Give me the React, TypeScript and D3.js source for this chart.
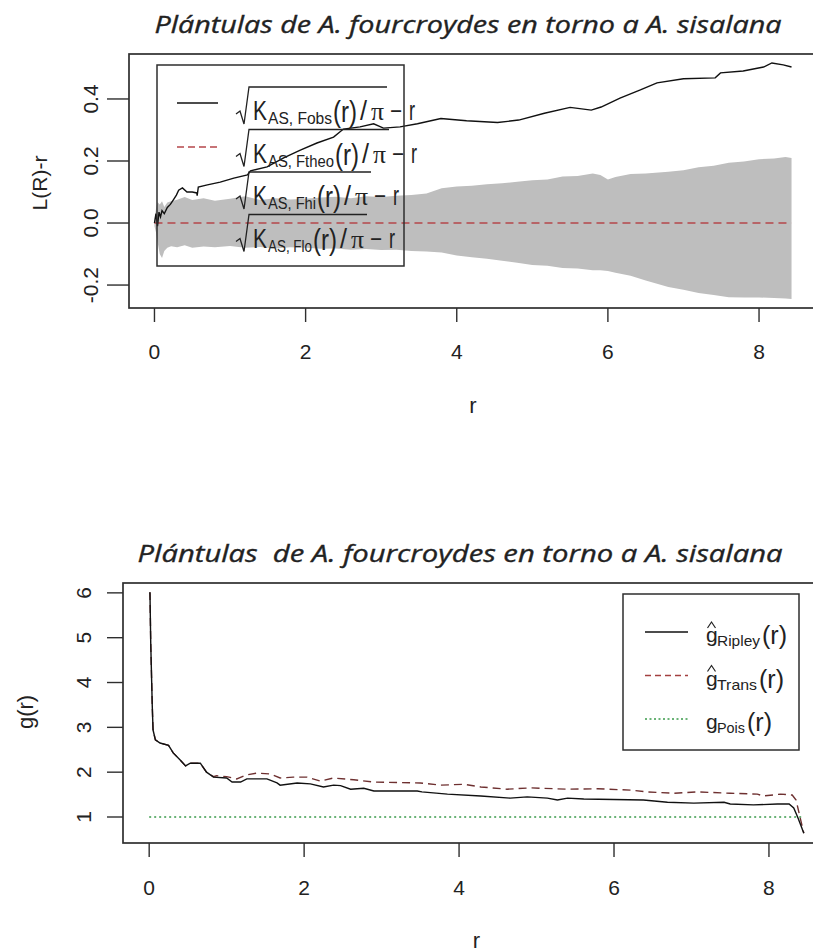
import React from "react";
import * as d3 from "d3";

// ---------- Top panel data: L(r)-r envelope ----------
const envR = [0,0.02,0.04,0.07,0.1,0.13,0.17,0.22,0.3,0.4,0.5,0.65,0.8,1.0,1.2,1.4,1.6,1.8,2.0,2.2,2.4,2.6,2.8,3.0,3.2,3.4,3.6,3.8,4.0,4.2,4.4,4.6,4.8,5.0,5.2,5.4,5.6,5.8,5.9,6.0,6.1,6.3,6.5,6.8,7.0,7.2,7.4,7.6,7.8,8.0,8.2,8.35,8.43];
const envHi = [0.01,0.045,0.068,0.06,0.07,0.052,0.066,0.07,0.075,0.084,0.074,0.08,0.072,0.078,0.086,0.074,0.08,0.076,0.078,0.082,0.085,0.08,0.086,0.084,0.088,0.09,0.095,0.112,0.118,0.12,0.125,0.128,0.133,0.138,0.14,0.15,0.152,0.16,0.155,0.14,0.148,0.158,0.16,0.165,0.17,0.18,0.185,0.194,0.198,0.206,0.208,0.213,0.21];
const envLo = [-0.01,-0.03,-0.06,-0.1,-0.113,-0.09,-0.08,-0.075,-0.078,-0.072,-0.08,-0.076,-0.078,-0.074,-0.08,-0.077,-0.082,-0.078,-0.08,-0.083,-0.082,-0.086,-0.084,-0.087,-0.086,-0.09,-0.092,-0.095,-0.105,-0.11,-0.115,-0.122,-0.128,-0.135,-0.138,-0.145,-0.147,-0.152,-0.152,-0.155,-0.16,-0.17,-0.185,-0.206,-0.215,-0.226,-0.232,-0.239,-0.24,-0.24,-0.242,-0.243,-0.245];
const obsR = [0,0.02,0.04,0.06,0.08,0.1,0.13,0.17,0.21,0.25,0.29,0.32,0.37,0.43,0.5,0.56,0.565,0.58,0.7,0.87,1.05,1.23,1.27,1.49,1.71,1.93,2.15,2.37,2.5,2.72,2.9,3.03,3.25,3.48,3.79,4.13,4.54,4.82,5.16,5.5,5.78,5.91,6.16,6.43,6.65,7.0,7.42,7.49,7.79,8.06,8.17,8.32,8.43];
const obsV = [0,0.03,-0.01,0.035,0.02,0.04,0.03,0.05,0.06,0.075,0.09,0.106,0.113,0.1,0.1,0.097,0.088,0.116,0.123,0.132,0.145,0.155,0.168,0.181,0.21,0.235,0.258,0.277,0.303,0.31,0.32,0.306,0.31,0.32,0.337,0.33,0.324,0.332,0.354,0.373,0.364,0.374,0.403,0.429,0.452,0.465,0.468,0.484,0.49,0.503,0.516,0.51,0.503];
const theoR = [0, 8.43];
const theoV = [0, 0];
const topXTicks = [0, 2, 4, 6, 8];
const topYTicks = [-0.2, 0.0, 0.2, 0.4];
const topLegendSubs = ["AS, Fobs", "AS, Ftheo", "AS, Fhi", "AS, Flo"];

// ---------- Bottom panel data: g(r) ----------
const ripR = [0,0.01,0.02,0.04,0.05,0.08,0.14,0.25,0.31,0.4,0.47,0.53,0.66,0.74,0.83,1.0,1.07,1.18,1.26,1.52,1.65,1.69,1.91,2.08,2.25,2.38,2.47,2.6,2.77,2.9,3.46,3.52,3.85,4.28,4.66,4.88,5.14,5.27,5.4,5.61,6.38,6.69,7.03,7.42,7.5,7.8,8.11,8.26,8.32,8.37,8.41,8.45];
const ripV = [6.0,6.0,4.88,3.46,2.94,2.72,2.65,2.6,2.43,2.27,2.14,2.2,2.2,2.0,1.89,1.87,1.78,1.78,1.85,1.85,1.76,1.71,1.76,1.74,1.67,1.71,1.7,1.62,1.64,1.58,1.58,1.56,1.51,1.47,1.42,1.45,1.42,1.38,1.42,1.4,1.38,1.33,1.31,1.33,1.29,1.27,1.29,1.29,1.2,1.0,0.82,0.64];
const transR = [0,0.01,0.02,0.04,0.05,0.08,0.14,0.25,0.31,0.4,0.47,0.53,0.66,0.74,0.83,0.87,1.0,1.13,1.26,1.39,1.56,1.69,1.86,2.04,2.21,2.38,2.64,2.9,3.5,3.76,4.06,4.28,4.62,4.92,5.4,5.79,6.21,6.43,6.77,7.08,7.5,7.85,7.93,8.15,8.3,8.35,8.41,8.45];
const transV = [6.0,6.0,4.88,3.46,2.94,2.72,2.65,2.6,2.43,2.27,2.14,2.2,2.2,2.0,1.9,1.92,1.9,1.85,1.94,1.98,1.96,1.87,1.89,1.89,1.8,1.87,1.83,1.78,1.76,1.71,1.73,1.67,1.62,1.65,1.62,1.63,1.6,1.56,1.53,1.56,1.53,1.51,1.47,1.51,1.49,1.38,0.93,0.64];
const poisR = [0, 8.45];
const poisV = [1, 1];
const botXTicks = [0, 2, 4, 6, 8];
const botYTicks = [1, 2, 3, 4, 5, 6];
const botLegend = [
  { sub: "Ripley", hat: true },
  { sub: "Trans", hat: true },
  { sub: "Pois", hat: false },
];

const TITLE1 = "Plántulas de A. fourcroydes en torno a A. sisalana";
const TITLE2 = "Plántulas  de A. fourcroydes en torno a A. sisalana";

const AXIS = "#2e2e2e";
const TXT = "#222";
const SANS = "'Liberation Sans', Arial, sans-serif";

export default function App() {
  const xT = d3.scaleLinear().domain([-0.337, 8.767]).range([129, 817]);
  const yT = d3.scaleLinear().domain([-0.274, 0.545]).range([308, 54]);
  const xB = d3.scaleLinear().domain([-0.338, 8.788]).range([123, 830]);
  const yB = d3.scaleLinear().domain([0.42, 6.22]).range([843, 583]);

  const env = envR.map((r, i) => ({ r, hi: envHi[i], lo: envLo[i] }));
  const area = d3.area<any>().x((d) => xT(d.r)).y0((d) => yT(d.lo)).y1((d) => yT(d.hi));
  const lineT = d3.line<[number, number]>().x((d) => xT(d[0])).y((d) => yT(d[1]));
  const lineB = d3.line<[number, number]>().x((d) => xB(d[0])).y((d) => yB(d[1]));
  const zip = (a: number[], b: number[]) => a.map((v, i) => [v, b[i]] as [number, number]);

  const tBox = { x0: xT.range()[0], x1: xT.range()[1], y0: yT.range()[1], y1: yT.range()[0] };
  const bBox = { x0: xB.range()[0], x1: xB.range()[1], y0: yB.range()[1], y1: yB.range()[0] };

  const lg = { x: 157, y: 65, w: 247, h: 201 };
  const subW = [64, 66, 48, 44];
  const step = 42.5;

  return (
    <svg width={813} height={952} style={{ position: "absolute", left: 0, top: 0, display: "block", background: "#fff" }}>
      <rect x={0} y={0} width={813} height={952} fill="#fff" />
      {/* ===== TOP PANEL ===== */}
      <text x={468} y={33} textAnchor="middle" fontFamily="'Open Sans', sans-serif" fontStyle="italic" fontSize={24} fill={TXT} stroke={TXT} strokeWidth={0.35} textLength={627} lengthAdjust="spacingAndGlyphs">{TITLE1}</text>
      <path d={area(env) || ""} fill="#bebebe" />
      <path d={lineT(zip(theoR, theoV)) || ""} fill="none" stroke="#b5474b" strokeWidth={1.5} strokeDasharray="8,5" />
      <path d={lineT(zip(obsR, obsV)) || ""} fill="none" stroke="#111" strokeWidth={1.4} />
      <rect x={tBox.x0} y={tBox.y0} width={tBox.x1 - tBox.x0} height={tBox.y1 - tBox.y0} fill="none" stroke={AXIS} strokeWidth={1.7} />
      {topXTicks.map((t) => (
        <g key={"tx" + t}>
          <line x1={xT(t)} x2={xT(t)} y1={tBox.y1} y2={tBox.y1 + 14} stroke={AXIS} strokeWidth={1.4} />
          <text x={xT(t)} y={351} textAnchor="middle" dominantBaseline="central" fontFamily={SANS} fontSize={21} fill={TXT}>{t}</text>
        </g>
      ))}
      {topYTicks.map((t) => (
        <g key={"ty" + t}>
          <line x1={tBox.x0 - 22} x2={tBox.x0} y1={yT(t)} y2={yT(t)} stroke={AXIS} strokeWidth={1.4} />
          <text transform={`translate(90,${yT(t)}) rotate(-90)`} textAnchor="middle" dominantBaseline="central" fontFamily={SANS} fontSize={21} fill={TXT}>{t.toFixed(1)}</text>
        </g>
      ))}
      <text x={(tBox.x0 + tBox.x1) / 2} y={405} textAnchor="middle" dominantBaseline="central" fontFamily={SANS} fontSize={22} fill={TXT}>r</text>
      <text transform={`translate(39,183) rotate(-90)`} textAnchor="middle" dominantBaseline="central" fontFamily={SANS} fontSize={21} fill={TXT}>L(R)-r</text>

      {/* top legend */}
      <rect x={lg.x} y={lg.y} width={lg.w} height={lg.h} fill="none" stroke={AXIS} strokeWidth={1.5} />
      <line x1={177} x2={218} y1={103} y2={103} stroke="#111" strokeWidth={1.4} />
      <line x1={177} x2={218} y1={147} y2={147} stroke="#b5474b" strokeWidth={1.5} strokeDasharray="7,4" />
      {topLegendSubs.map((s, i) => {
        const b = 120 + i * step;
        const ob = 87 + i * step;
        const sx = 268 + subW[i];
        const barEnd = sx + 55;
        return (
          <g key={"tl" + i} fill={TXT} fontFamily={SANS}>
            <path d={`M236,${b - 6} L240,${b - 9} L244,${b + 4} L249,${ob} H${barEnd}`} fill="none" stroke={TXT} strokeWidth={1.3} />
            <text x={253} y={b} fontSize={28} textLength={14} lengthAdjust="spacingAndGlyphs">K</text>
            <text x={268} y={b + 4} fontSize={16} textLength={subW[i]} lengthAdjust="spacingAndGlyphs">{s}</text>
            <text x={sx + 1} y={b + 2} fontSize={30} textLength={24} lengthAdjust="spacingAndGlyphs">(r)</text>
            <text x={sx + 28} y={b} fontSize={28} textLength={7} lengthAdjust="spacingAndGlyphs">/</text>
            <text x={sx + 39} y={b} fontSize={26} fontFamily="'Liberation Serif', serif" textLength={13} lengthAdjust="spacingAndGlyphs">π</text>
            <text x={sx + 58} y={b - 1} fontSize={24} textLength={12} lengthAdjust="spacingAndGlyphs">−</text>
            <text x={sx + 77} y={b} fontSize={28} textLength={6} lengthAdjust="spacingAndGlyphs">r</text>
          </g>
        );
      })}

      {/* ===== BOTTOM PANEL ===== */}
      <text x={460} y={562} textAnchor="middle" fontFamily="'Open Sans', sans-serif" fontStyle="italic" fontSize={24} fill={TXT} stroke={TXT} strokeWidth={0.35} textLength={645} lengthAdjust="spacingAndGlyphs" style={{ whiteSpace: "pre" }}>{TITLE2}</text>
      <path d={lineB(zip(poisR, poisV)) || ""} fill="none" stroke="#3a9a4a" strokeWidth={1.5} strokeDasharray="2,3" />
      <path d={lineB(zip(transR, transV)) || ""} fill="none" stroke="#6e3030" strokeWidth={1.4} strokeDasharray="8,5" />
      <path d={lineB(zip(ripR, ripV)) || ""} fill="none" stroke="#111" strokeWidth={1.4} />
      <rect x={bBox.x0} y={bBox.y0} width={bBox.x1 - bBox.x0} height={bBox.y1 - bBox.y0} fill="none" stroke={AXIS} strokeWidth={1.7} />
      {botXTicks.map((t) => (
        <g key={"bx" + t}>
          <line x1={xB(t)} x2={xB(t)} y1={bBox.y1} y2={bBox.y1 + 14} stroke={AXIS} strokeWidth={1.4} />
          <text x={xB(t)} y={887} textAnchor="middle" dominantBaseline="central" fontFamily={SANS} fontSize={21} fill={TXT}>{t}</text>
        </g>
      ))}
      {botYTicks.map((t) => (
        <g key={"by" + t}>
          <line x1={bBox.x0 - 16} x2={bBox.x0} y1={yB(t)} y2={yB(t)} stroke={AXIS} strokeWidth={1.4} />
          <text transform={`translate(83,${yB(t)}) rotate(-90)`} textAnchor="middle" dominantBaseline="central" fontFamily={SANS} fontSize={21} fill={TXT}>{t}</text>
        </g>
      ))}
      <text x={(bBox.x0 + bBox.x1) / 2} y={940} textAnchor="middle" dominantBaseline="central" fontFamily={SANS} fontSize={22} fill={TXT}>r</text>
      <text transform={`translate(25,712) rotate(-90)`} textAnchor="middle" dominantBaseline="central" fontFamily={SANS} fontSize={22} fill={TXT}>g(r)</text>

      {/* bottom legend */}
      <rect x={623} y={594} width={176} height={156} fill="#fff" stroke={AXIS} strokeWidth={1.5} />
      {botLegend.map((e, i) => {
        const cy = 632 + i * 43.5;
        const b = cy + 10;
        const subWidth = e.sub === "Ripley" ? 43 : e.sub === "Trans" ? 40 : 28;
        const px = 717 + subWidth + 2;
        return (
          <g key={"bl" + i} fill={TXT} fontFamily={SANS}>
            {i === 0 && <line x1={645} x2={688} y1={cy} y2={cy} stroke="#111" strokeWidth={1.4} />}
            {i === 1 && <line x1={645} x2={688} y1={cy} y2={cy} stroke="#a34040" strokeWidth={1.4} strokeDasharray="6,4" />}
            {i === 2 && <line x1={645} x2={688} y1={cy} y2={cy} stroke="#3a9a4a" strokeWidth={1.5} strokeDasharray="2,2.5" />}
            {e.hat && <path d={`M707.5,${cy - 4} L711.5,${cy - 10} L715.5,${cy - 4}`} fill="none" stroke={TXT} strokeWidth={1.2} />}
            <text x={706} y={b} fontSize={21}>g</text>
            <text x={717} y={b + 4} fontSize={15} textLength={subWidth} lengthAdjust="spacingAndGlyphs">{e.sub}</text>
            <text x={px} y={b + 2} fontSize={25} textLength={25} lengthAdjust="spacingAndGlyphs">(r)</text>
          </g>
        );
      })}
    </svg>
  );
}
